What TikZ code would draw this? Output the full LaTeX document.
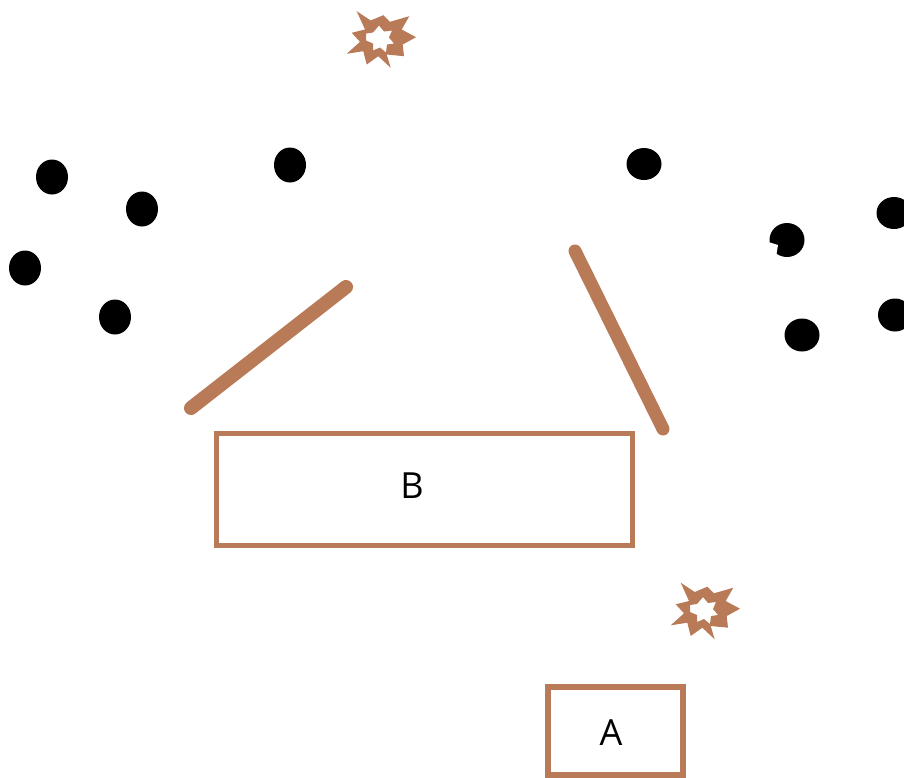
\documentclass[tikz,border=0pt]{standalone}
\usepackage{fontspec}
\setmainfont{Open Sans}
\usetikzlibrary{shapes.geometric}
\definecolor{woodbrown}{HTML}{B97A57}
\tikzset{
  dotnode/.style={ellipse,fill=black,inner sep=0pt,minimum width=32pt,minimum height=35pt},
  boxnode/.style={rectangle,draw=woodbrown,line width=5.5pt,inner sep=0pt},
  labelnode/.style={inner sep=0pt,font=\fontsize{36}{36}\selectfont},
  barline/.style={draw=woodbrown,line cap=round,line width=14pt},
  burst/.pic={
    \path[fill=woodbrown,even odd rule]
      (-23.3,-28.3) -- (-9.3,-19) -- (3.3,-24.3) -- (10,-17.7) -- (29.3,-23.3) -- (21.7,-10) -- (36,-2.3) -- (22.7,5) -- (24,16.7) -- (6.7,15) -- (10.7,28.3) -- (-1.7,16.7) -- (-13.3,25) -- (-16.7,11.7) -- (-33.3,14.3) -- (-20,2.3) -- (-28.3,-6.7) -- (-15,-10) -- cycle
      (-14,-6) -- (-7,-7) -- (-1,-14) -- (4,-8) -- (12,-9) -- (9,-2) -- (14,4) -- (7,5) -- (6,13) -- (0,8) -- (-7,11) -- (-7,4) -- (-14,1) -- cycle;
  }
}
\begin{document}
\begin{tikzpicture}[x=1pt,y=-1pt]
  \useasboundingbox (0,0) rectangle (904,777);
  % dots on the left
  \foreach \name/\x/\y in {la/52/177,lb/142/209,lc/25/268,ld/115/317,le/290/165}
    \node[dotnode] (\name) at (\x,\y) {};
  % dots on the right
  \node[dotnode,minimum width=35pt,minimum height=32pt] (ra) at (644,164) {};
  \node[dotnode,minimum width=35pt,minimum height=34pt] (rb) at (787,240) {};
  \node[dotnode,minimum width=35pt,minimum height=32pt] (rc) at (894,213) {};
  \node[dotnode,minimum width=35pt,minimum height=33pt] (rd) at (802,335) {};
  \node[dotnode,minimum width=34pt,minimum height=33pt] (re) at (895,315) {};
  \path[fill=white] (764,242.5) -- (770,242.5) -- (778,245) -- (776.5,254) -- (778,262) -- (764,262) -- cycle;
  % bars
  \coordinate (barla) at (191,408);
  \coordinate (barlb) at (346,287);
  \coordinate (barra) at (575,251);
  \coordinate (barrb) at (663,429);
  \draw[barline] (barla) -- (barlb);
  \draw[barline,line width=13pt] (barra) -- (barrb);
  % boxes
  \node[boxnode,minimum width=416pt,minimum height=112pt] (boxb) at (424.5,489.5) {};
  \node[labelnode] (labelb) at (412,486) {B};
  \node[boxnode,minimum width=135pt,minimum height=88pt] (boxa) at (615.5,731) {};
  \node[labelnode] (labela) at (611,733) {A};
  % bursts
  \pic at (380,39.5) {burst};
  \pic at (704,611) {burst};
\end{tikzpicture}
\end{document}
